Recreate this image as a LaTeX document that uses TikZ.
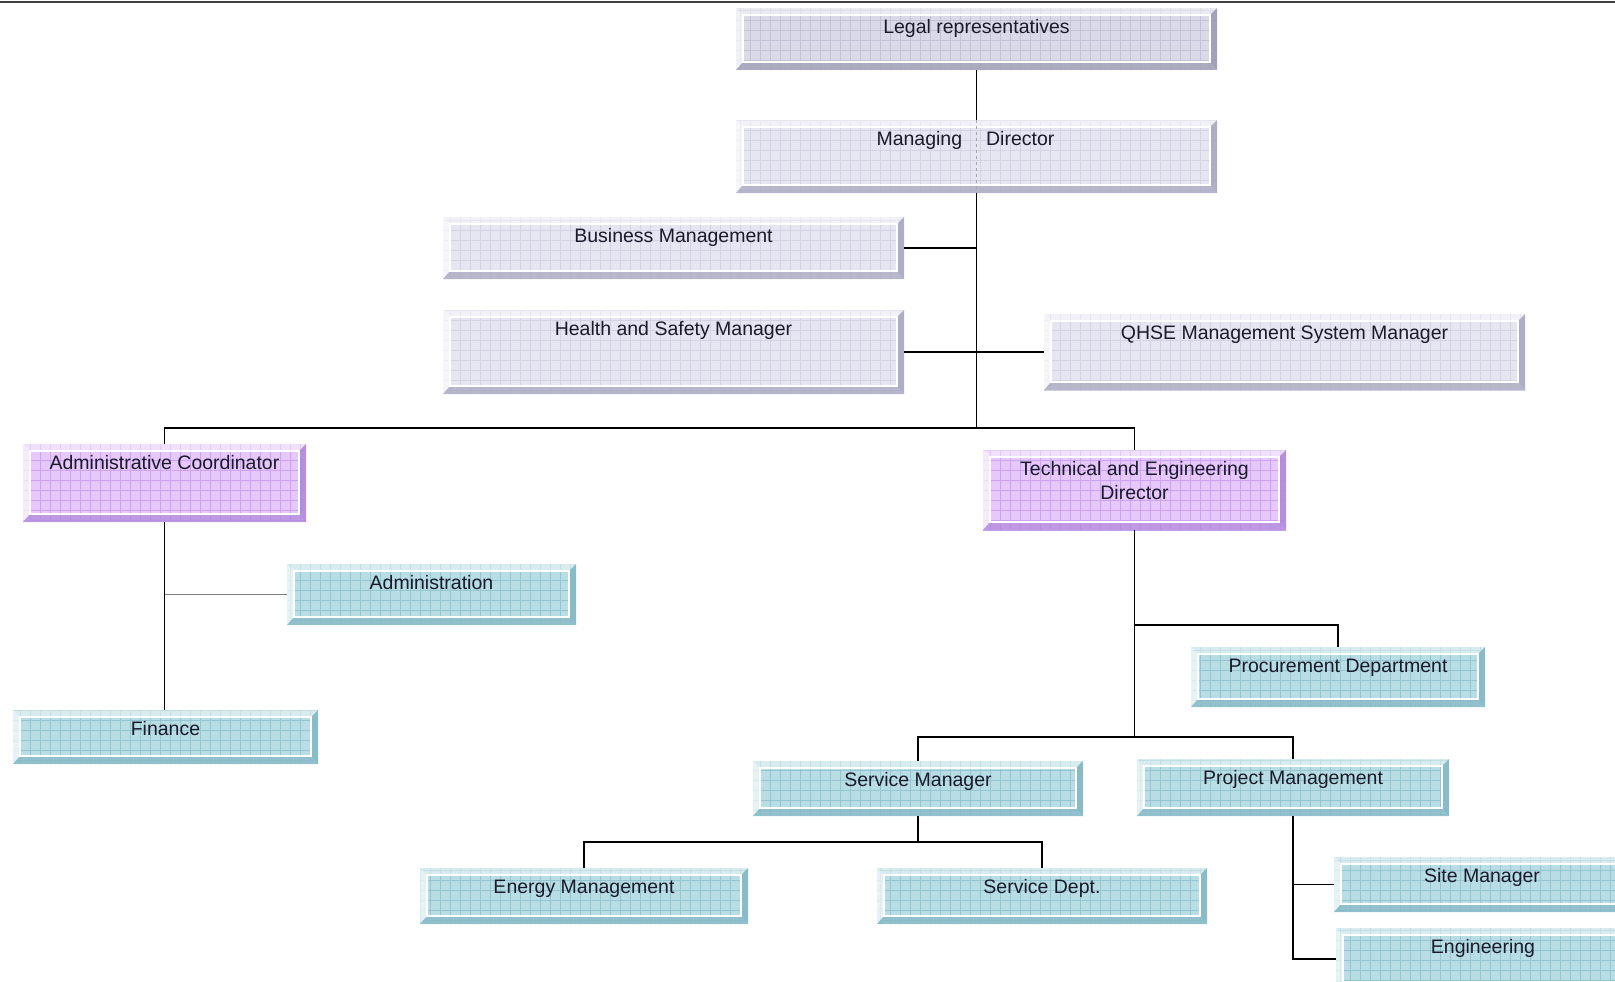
\documentclass[tikz,border=0pt]{standalone}
\usepackage{fontspec}
\setmainfont{Liberation Sans}
\definecolor{gbase}{HTML}{E6E6F2}
\definecolor{ggrid}{HTML}{D3D3E3}
\definecolor{gdark}{HTML}{A8A8C0}
\definecolor{lbase}{HTML}{D9D9E7}
\definecolor{lgrid}{HTML}{C3C3D7}
\definecolor{ldark}{HTML}{9C9CB4}
\definecolor{pbase}{HTML}{E6C8FA}
\definecolor{pgrid}{HTML}{CDA2F2}
\definecolor{pdark}{HTML}{B088DC}
\definecolor{tbase}{HTML}{B8DDE5}
\definecolor{tgrid}{HTML}{93C6D2}
\definecolor{tdark}{HTML}{86B8C6}
\definecolor{txt}{HTML}{1A1A2A}
\newcommand\orgbox[7]{%
  \fill[#2base] (#3,#4) rectangle (#5,#6);
  \begin{scope}
    \clip (#3,#4) rectangle (#5,#6);
    \draw[#2grid, line width=0.9pt, step=10pt] (#3,#4) grid (#5,#6);
  \end{scope}
  \fill[white, opacity=0.45] (#3,#4) -- (#5,#4) -- ({#5-7},{#4+7}) -- ({#3+7},{#4+7}) -- cycle;
  \fill[white, opacity=0.65] (#3,#4) -- ({#3+7},{#4+7}) -- ({#3+7},{#6-8}) -- (#3,#6) -- cycle;
  \fill[#2dark, opacity=0.75] (#3,#6) -- ({#3+7},{#6-8}) -- ({#5-7},{#6-8}) -- (#5,#6) -- cycle;
  \fill[#2dark, opacity=0.9] (#5,#4) -- (#5,#6) -- ({#5-7},{#6-8}) -- ({#5-7},{#4+7}) -- cycle;
  \draw[white, line width=1.2pt] ({#3+7},{#4+7}) rectangle ({#5-7},{#6-8});
  \node[inner sep=0pt, outer sep=0pt, minimum width={(#5-#3)*1pt}, minimum height={(#6-#4)*1pt}] (#1) at ({(#3+#5)/2},{(#4+#6)/2}) {};
  \node[boxtext, anchor=north] at ({(#3+#5)/2},{#4+11.5}) {#7};
}
\tikzset{
  boxtext/.style={inner sep=0pt, align=center, text=txt, font=\fontsize{19.5}{24}\selectfont},
  conn/.style={black, line width=1.9pt},
  softconn/.style={gray, line width=1.9pt}
}
\begin{document}
\begin{tikzpicture}[x=1pt,y=-1pt]
\clip (0,0) rectangle (1615,982);
\fill[white] (0,0) rectangle (1615,982);
\coordinate (tl) at (0,2);
\coordinate (tr) at (1615,2);
\draw[black!75, line width=2pt] (tl) -- (tr);

\orgbox{legal}{l}{736}{8}{1217}{70}{Legal representatives}
\orgbox{md}{g}{736}{120}{1217}{193}{Managing\hspace{24pt}Director\hspace{22pt}}
\orgbox{bm}{g}{443}{217}{904}{279}{Business Management}
\orgbox{hsm}{g}{443}{310}{904}{394}{Health and Safety Manager}
\orgbox{qhse}{g}{1044}{314}{1525}{390}{QHSE Management System Manager}
\orgbox{ac}{p}{23}{444}{306}{522}{Administrative Coordinator}
\orgbox{ted}{p}{983}{450}{1286}{530}{Technical and Engineering\\Director}
\orgbox{adm}{t}{287}{564}{576}{625}{Administration}
\orgbox{fin}{t}{13}{710}{318}{764}{Finance}
\orgbox{proc}{t}{1191}{647}{1485}{707}{Procurement Department}
\orgbox{sm}{t}{753}{761}{1083}{816}{Service Manager}
\orgbox{pm}{t}{1137}{759}{1449}{816}{Project Management}
\orgbox{em}{t}{420}{868}{748}{924}{Energy Management}
\orgbox{sd}{t}{877}{868}{1207}{924}{Service Dept.}
\orgbox{site}{t}{1334}{857}{1630}{912}{Site Manager}
\orgbox{eng}{t}{1336}{928}{1630}{990}{Engineering}

\draw[gray!70, line width=1pt, dashed] (md.north) -- (md.south);

\path (md.south |- 0,428) coordinate (j1);
\path (ted.south |- 0,737) coordinate (j2);
\path (ted.south |- 0,625) coordinate (jp);
\path (sm.south |- 0,842) coordinate (j3);

\draw[conn] (legal.south) -- (md.north);
\draw[conn] (md.south) -- (j1);
\draw[conn] (bm.east) -- (bm.east -| md.south);
\draw[conn] (hsm.east) -- (qhse.west);
\draw[conn] (ac.north) |- (j1) -| (ted.north);
\draw[conn] (ac.south) -- (ac.south |- fin.north);
\draw[softconn] (adm.west) -- (adm.west -| ac.south);
\draw[conn] (ted.south) -- (j2);
\draw[conn] (jp) -| (proc.north);
\draw[conn] (sm.north) |- (j2) -| (pm.north);
\draw[conn] (sm.south) -- (j3);
\draw[conn] (em.north) |- (j3) -| (sd.north);
\draw[conn] (pm.south) |- (eng.west);
\draw[conn] (pm.south |- site.west) -- (site.west);
\end{tikzpicture}
\end{document}
